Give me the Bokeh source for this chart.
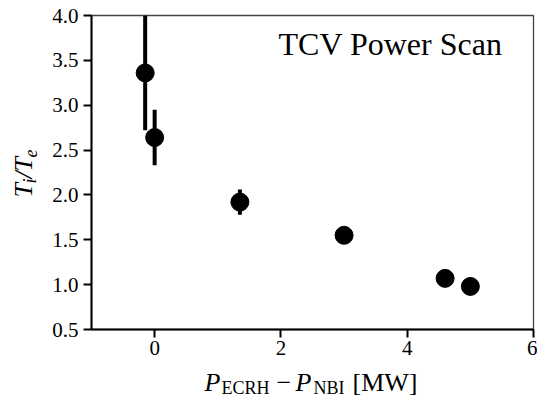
import math
from bokeh.plotting import figure
from bokeh.layouts import column, row
from bokeh.models import Label, FixedTicker, PrintfTickFormatter, Range1d, ColumnDataSource
from bokeh.embed import file_html
from bokeh.resources import INLINE

# ---- data ----
power = [-0.15, 0.0, 1.35, 3.0, 4.6, 5.0]          # P_ECRH - P_NBI [MW]
ratio = [3.36, 2.64, 1.92, 1.55, 1.07, 0.98]        # Ti/Te
ratio_err = [0.64, 0.31, 0.14, 0.05, 0.04, 0.04]
x_ticks = [0, 2, 4, 6]
y_ticks = [0.5, 1.0, 1.5, 2.0, 2.5, 3.0, 3.5, 4.0]
annotation = "TCV Power Scan"

FONT = "Liberation Serif"
W, H = 537, 398
YLAB_W = 40          # width of the strip holding the rotated y label
XLAB_H = 29          # height of the strip holding the x label
MAIN_W, MAIN_H = W - YLAB_W, H - XLAB_H
FRAME_L, FRAME_T, FRAME_R, FRAME_B = 91, 15, 533, 329   # in page pixels
MID = 0.3375         # baseline -> vertical centre of the font box, in em

p = figure(width=MAIN_W, height=MAIN_H, x_range=Range1d(-1, 6), y_range=Range1d(0.5, 4.0),
           output_backend="svg", toolbar_location=None,
           min_border_left=FRAME_L - YLAB_W, min_border_right=W - FRAME_R,
           min_border_top=FRAME_T, min_border_bottom=MAIN_H - FRAME_B)
p.background_fill_color = "white"
p.border_fill_color = "white"
p.outline_line_color = "#444444"
p.outline_line_width = 1.3
p.grid.visible = False

p.xaxis.ticker = FixedTicker(ticks=x_ticks, minor_ticks=[])
p.yaxis.ticker = FixedTicker(ticks=y_ticks, minor_ticks=[])
p.yaxis.formatter = PrintfTickFormatter(format="%.1f")
for ax in (p.xaxis[0], p.yaxis[0]):
    ax.axis_line_width = 2
    ax.axis_line_color = "black"
    ax.major_tick_line_width = 2
    ax.major_tick_line_color = "black"
    ax.major_tick_out = 8
    ax.major_tick_in = 0
    ax.minor_tick_out = 0
    ax.minor_tick_in = 0
    ax.major_label_text_font = FONT
    ax.major_label_text_font_style = "normal"
    ax.major_label_text_font_size = "21px"
    ax.major_label_text_color = "black"
p.xaxis[0].major_label_standoff = 3
p.yaxis[0].major_label_standoff = 5

lo = [r - e for r, e in zip(ratio, ratio_err)]
hi = [r + e for r, e in zip(ratio, ratio_err)]
src = ColumnDataSource(dict(x=power, y=ratio, lo=lo, hi=hi))
p.segment(x0="x", y0="lo", x1="x", y1="hi", source=src, line_width=4, line_color="black")
p.scatter("x", "y", source=src, size=18, fill_color="black", line_color="black")


def mk(txt, px, base, size, italic=False, rotated=False):
    """px/base: left edge and baseline (for rotated text: start y and baseline x)."""
    if rotated:
        x, y, ang = base - MID * size, px, math.pi / 2
    else:
        x, y, ang = px, base - MID * size, 0.0
    return Label(x=x, y=y, x_units="canvas", y_units="canvas",
                 text=txt, text_font=FONT, text_font_size=f"{size}px",
                 text_font_style="italic" if italic else "normal",
                 text_color="black", text_baseline="middle", text_align="left",
                 angle=ang)


def strip(w, h):
    f = figure(width=w, height=h, x_range=Range1d(0, w), y_range=Range1d(0, h),
               output_backend="svg", toolbar_location=None,
               x_axis_type=None, y_axis_type=None, min_border=0)
    f.grid.visible = False
    f.outline_line_color = None
    f.background_fill_color = "white"
    f.border_fill_color = "white"
    return f


# annotation inside the main frame (canvas coords of main figure)
p.add_layout(mk(annotation, 278 - YLAB_W, 54, 32))

# y axis label: T_i/T_e (rotated), in its own strip
ylab = strip(YLAB_W, MAIN_H)
for lab in [mk("T", 197, 32, 26, italic=True, rotated=True),
            mk("i", 183, 36, 18, italic=True, rotated=True),
            mk("/", 178, 32, 26, italic=True, rotated=True),
            mk("T", 171, 32, 26, italic=True, rotated=True),
            mk("e", 157, 36, 18, italic=True, rotated=True)]:
    ylab.add_layout(lab)

# x axis label: P_ECRH − P_NBI [MW], in its own strip
xlab = strip(W, XLAB_H)
oy = MAIN_H
for lab in [mk("P", 204, 391 - oy, 26, italic=True),
            mk("ECRH", 221, 394 - oy, 18),
            mk("\u2212", 276, 391 - oy, 26),
            mk("P", 295, 391 - oy, 26, italic=True),
            mk("NBI", 313, 394 - oy, 18),
            mk("[MW]", 352, 391 - oy, 26)]:
    xlab.add_layout(lab)

layout = column(row(ylab, p, spacing=0), xlab, spacing=0)
open("out.html", "w").write(file_html(layout, INLINE))
